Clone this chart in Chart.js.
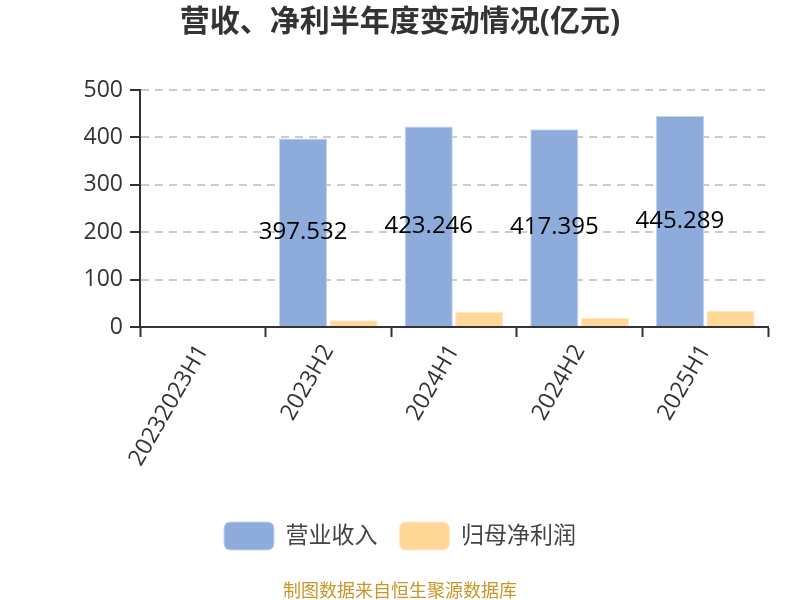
<!DOCTYPE html>
<html lang="zh">

<head>
    <meta charset="UTF-8">
    <title>营收、净利半年度变动情况</title>
    <script src="https://cdn.jsdelivr.net/npm/chart.js"></script>
    <style>
        body { margin: 0; background: #fff; }
        .wrap { position: relative; width: 800px; height: 600px; }
        .source {
            position: absolute; left: 0; right: 0; top: 576px;
            text-align: center; font: 18px 'Noto Sans CJK SC', sans-serif; color: #c8962a;
        }
    </style>
</head>

<body>
    <div class="wrap">
        <canvas id="halfYearChart" width="800" height="600"></canvas>
        <div class="source">制图数据来自恒生聚源数据库</div>
    </div>

    <script>
        const periods = ['20232023H1', '2023H2', '2024H1', '2024H2', '2025H1'];
        const revenue = [null, 397.532, 423.246, 417.395, 445.289];
        const netProfit = [null, 14, 32, 19, 34];
        const yTicks = [0, 100, 200, 300, 400, 500];

        const fontFamily = "'Open Sans', 'Noto Sans CJK SC', sans-serif";

        // value labels drawn in the middle of the revenue bars
        const barLabels = {
            id: 'barLabels',
            afterDatasetsDraw(chart) {
                const ctx = chart.ctx;
                const meta = chart.getDatasetMeta(0);
                ctx.save();
                ctx.font = '24px ' + fontFamily;
                ctx.fillStyle = '#000';
                ctx.textAlign = 'center';
                ctx.textBaseline = 'middle';
                meta.data.forEach((bar, i) => {
                    if (revenue[i] == null) return;
                    ctx.fillText(revenue[i].toFixed(3), bar.x, (bar.y + bar.base) / 2);
                });
                ctx.restore();
            }
        };

        const ctx = document.getElementById('halfYearChart').getContext('2d');
        new Chart(ctx, {
            type: 'bar',
            data: {
                labels: periods,
                datasets: [{
                    label: '营业收入',
                    data: revenue,
                    backgroundColor: '#8dacdb',
                    borderColor: '#c4d5ef',
                    borderWidth: 1
                }, {
                    label: '归母净利润',
                    data: netProfit,
                    backgroundColor: '#ffd898',
                    borderColor: '#ffe9c4',
                    borderWidth: 1
                }]
            },
            options: {
                responsive: false,
                animation: false,
                layout: { padding: { left: 32, right: 32, bottom: 40 } },
                datasets: { bar: { categoryPercentage: 0.805, barPercentage: 0.953 } },
                plugins: {
                    title: {
                        display: true,
                        text: '营收、净利半年度变动情况(亿元)',
                        color: '#333',
                        font: { family: fontFamily, size: 30, weight: 'bold' },
                        padding: { top: 4, bottom: 50 }
                    },
                    legend: {
                        position: 'bottom',
                        labels: {
                            boxWidth: 50,
                            boxHeight: 28,
                            useBorderRadius: true,
                            borderRadius: 6,
                            padding: 22,
                            color: '#444',
                            font: { family: fontFamily, size: 23 }
                        }
                    },
                    tooltip: { enabled: false }
                },
                scales: {
                    x: {
                        afterFit(scale) { scale.height = 173; },
                        border: { color: '#333', width: 2 },
                        grid: { drawOnChartArea: false, tickLength: 10, tickColor: '#333', tickWidth: 2 },
                        ticks: {
                            color: '#333',
                            maxRotation: 60,
                            minRotation: 60,
                            font: { family: fontFamily, size: 23 }
                        }
                    },
                    y: {
                        min: 0,
                        max: 500,
                        afterFit(scale) { scale.width = 108; },
                        afterBuildTicks(scale) { scale.ticks = yTicks.map(v => ({ value: v })); },
                        border: { color: '#333', width: 2, dash: [8, 6] },
                        grid: {
                            color: '#ccc',
                            lineWidth: 2,
                            tickLength: 10,
                            tickColor: '#333',
                            tickWidth: 2,
                            tickBorderDash: []
                        },
                        ticks: {
                            color: '#333',
                            padding: 7,
                            font: { family: fontFamily, size: 23 }
                        }
                    }
                }
            },
            plugins: [barLabels]
        });
    </script>
</body>

</html>
